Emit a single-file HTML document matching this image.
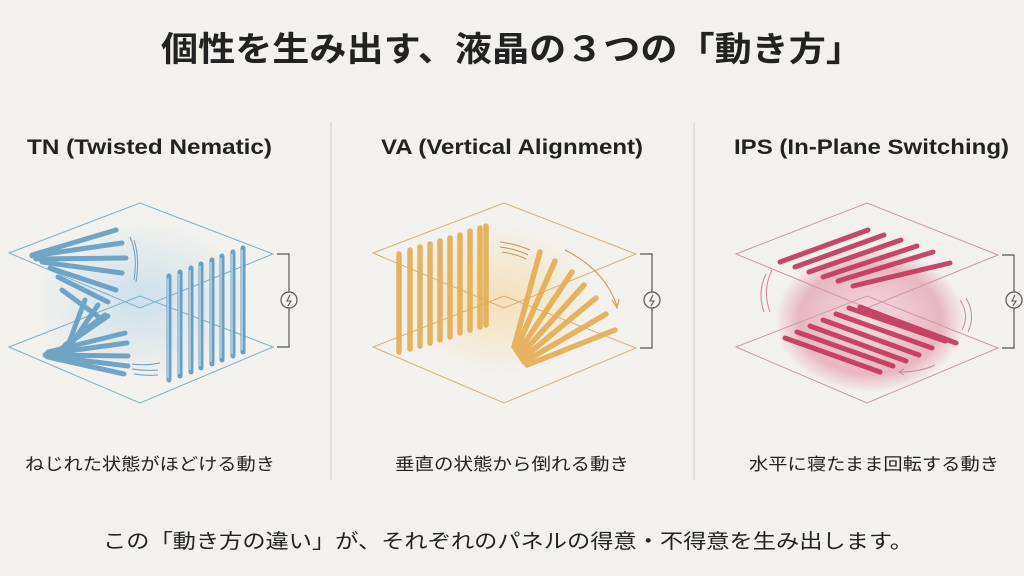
<!DOCTYPE html>
<html><head><meta charset="utf-8"><style>
html,body{margin:0;padding:0;background:#f2f1ed;}
svg{display:block}
text{font-family:"Liberation Sans","Noto Sans CJK JP",sans-serif;fill:#222}
</style></head><body>
<svg width="1024" height="576" viewBox="0 0 1024 576" xmlns="http://www.w3.org/2000/svg">
<defs>
<radialGradient id="gb" cx="0.5" cy="0.5" r="0.5"><stop offset="0" stop-color="#bcd9ea" stop-opacity="0.7"/><stop offset="1" stop-color="#bcd9ea" stop-opacity="0"/></radialGradient>
<radialGradient id="gy" cx="0.5" cy="0.5" r="0.5"><stop offset="0" stop-color="#f6d9a0" stop-opacity="0.7"/><stop offset="1" stop-color="#f6d9a0" stop-opacity="0"/></radialGradient>
<radialGradient id="gr" cx="0.5" cy="0.5" r="0.5"><stop offset="0" stop-color="#f4dbe0" stop-opacity="0.9"/><stop offset="0.75" stop-color="#e6a9b7" stop-opacity="0.8"/><stop offset="1" stop-color="#e6a9b7" stop-opacity="0"/></radialGradient>
</defs>
<rect width="1024" height="576" fill="#f2f1ed"/>
<text x="512" y="61" font-size="34" font-weight="bold" text-anchor="middle" textLength="702" lengthAdjust="spacingAndGlyphs">個性を生み出す、液晶の３つの「動き方」</text>
<line x1="331" y1="122" x2="331" y2="480" stroke="#d8d6d0" stroke-width="1.2"/>
<line x1="694" y1="122" x2="694" y2="480" stroke="#d8d6d0" stroke-width="1.2"/>
<text x="27" y="154" font-size="21" font-weight="bold" textLength="245" lengthAdjust="spacingAndGlyphs">TN (Twisted Nematic)</text>
<text x="381" y="154" font-size="21" font-weight="bold" textLength="262" lengthAdjust="spacingAndGlyphs">VA (Vertical Alignment)</text>
<text x="734" y="154" font-size="21" font-weight="bold" textLength="275" lengthAdjust="spacingAndGlyphs">IPS (In-Plane Switching)</text>

<!-- TN -->
<ellipse cx="140" cy="300" rx="110" ry="80" fill="url(#gb)"/>
<g fill="none" stroke="#7fb0c8" stroke-width="1">
<polygon points="9,253 140,203 273,254 140,308"/>
<polygon points="9,347 140,296 273,347 140,403"/>
</g>
<g stroke="#5b98c0" stroke-width="5" stroke-linecap="round" opacity="0.85">
<line x1="32" y1="255" x2="116" y2="230"/><line x1="32" y1="256" x2="122" y2="243"/>
<line x1="36" y1="259" x2="126" y2="258"/><line x1="42" y1="262" x2="122" y2="273"/>
<line x1="50" y1="268" x2="116" y2="290"/><line x1="58" y1="277" x2="108" y2="302"/>
<line x1="62" y1="290" x2="100" y2="318"/><line x1="85" y1="300" x2="70" y2="340"/>
<line x1="98" y1="305" x2="72" y2="343"/><line x1="105" y1="315" x2="65" y2="345"/>
<line x1="108" y1="316" x2="62" y2="348"/>
<line x1="48" y1="352" x2="125" y2="333"/><line x1="46" y1="354" x2="127" y2="343"/>
<line x1="45" y1="355" x2="128" y2="356"/><line x1="46" y1="356" x2="128" y2="366"/>
<line x1="48" y1="357" x2="124" y2="374"/>
</g>
<g stroke="#5b98c0" stroke-width="5" stroke-linecap="round" opacity="0.9">
<line x1="169" y1="276" x2="169" y2="380"/><line x1="180" y1="272" x2="180" y2="376"/>
<line x1="191" y1="268" x2="191" y2="372"/><line x1="201" y1="264" x2="201" y2="368"/>
<line x1="212" y1="260" x2="212" y2="364"/><line x1="222" y1="256" x2="222" y2="360"/>
<line x1="233" y1="252" x2="233" y2="356"/><line x1="243" y1="248" x2="243" y2="352"/>
</g>
<g stroke="#cfe4f0" stroke-width="1.2">
<line x1="168" y1="278" x2="168" y2="378"/><line x1="179" y1="274" x2="179" y2="374"/><line x1="190" y1="270" x2="190" y2="370"/><line x1="200" y1="266" x2="200" y2="366"/><line x1="211" y1="262" x2="211" y2="362"/><line x1="221" y1="258" x2="221" y2="358"/><line x1="232" y1="254" x2="232" y2="354"/><line x1="242" y1="250" x2="242" y2="350"/>
</g>
<g fill="none" stroke="#6a9cbc" stroke-width="1">
<path d="M130,237 Q138,255 134,280"/><path d="M134,240 Q140,258 136,282"/>
<path d="M132,364 Q145,366 160,363"/><path d="M132,369 Q145,371 158,370"/><path d="M134,374 Q146,376 158,375"/>
</g>
<g fill="none" stroke="#555" stroke-width="1.2">
<path d="M277,254 H289 V292 M289,308 V347 H277"/>
<circle cx="289" cy="300" r="8" fill="#f2f1ed"/>
<path d="M290,295 L287,301 H291 L288,306" stroke-width="1.1"/>
</g>

<!-- VA -->
<ellipse cx="500" cy="300" rx="95" ry="75" fill="url(#gy)"/>
<g fill="none" stroke="#d8b07a" stroke-width="1">
<polygon points="373,253 504,203 636,254 504,308"/>
<polygon points="373,347 504,296 636,348 504,403"/>
</g>
<g stroke="#e4ad52" stroke-width="5.5" stroke-linecap="round" opacity="0.9">
<line x1="399" y1="254" x2="399" y2="352"/><line x1="410" y1="250" x2="410" y2="349"/>
<line x1="420" y1="247" x2="420" y2="346"/><line x1="430" y1="244" x2="430" y2="343"/>
<line x1="440" y1="241" x2="440" y2="340"/><line x1="450" y1="238" x2="450" y2="337"/>
<line x1="460" y1="235" x2="460" y2="333"/><line x1="470" y1="231" x2="470" y2="330"/>
<line x1="480" y1="228" x2="480" y2="327"/><line x1="486" y1="226" x2="486" y2="325"/>
<line x1="514" y1="347" x2="540" y2="252"/><line x1="516" y1="350" x2="555" y2="261"/>
<line x1="518" y1="353" x2="572" y2="272"/><line x1="520" y1="356" x2="584" y2="285"/>
<line x1="522" y1="359" x2="596" y2="298"/><line x1="524" y1="362" x2="606" y2="314"/>
<line x1="527" y1="365" x2="615" y2="330"/>
</g>
<g fill="none" stroke="#c8955a" stroke-width="1">
<path d="M500,242 Q516,244 530,250"/><path d="M500,247 Q516,249 528,255"/><path d="M502,252 Q516,254 526,259"/>
<path d="M565,250 Q605,270 617,306"/><path d="M612,300 L617,308 L619,299"/>
</g>
<g fill="none" stroke="#555" stroke-width="1.2">
<path d="M640,254 H652 V292 M652,308 V348 H640"/>
<circle cx="652" cy="300" r="8" fill="#f2f1ed"/>
<path d="M653,295 L650,301 H654 L651,306" stroke-width="1.1"/>
</g>

<!-- IPS -->
<ellipse cx="870" cy="320" rx="95" ry="72" fill="url(#gr)"/>
<g fill="none" stroke="#c99aa3" stroke-width="1">
<polygon points="736,254 867,203 998,255 867,308"/>
<polygon points="736,347 867,296 998,348 867,403"/>
</g>
<g stroke="#c2365a" stroke-width="5" stroke-linecap="round" opacity="0.9">
<line x1="780" y1="262" x2="868" y2="230"/><line x1="795" y1="267" x2="884" y2="235"/>
<line x1="809" y1="272" x2="901" y2="240"/><line x1="823" y1="277" x2="917" y2="246"/>
<line x1="838" y1="281" x2="933" y2="252"/><line x1="853" y1="286" x2="950" y2="263"/>
<line x1="785" y1="338" x2="880" y2="372"/><line x1="797" y1="332" x2="893" y2="366"/>
<line x1="810" y1="326" x2="906" y2="361"/><line x1="823" y1="320" x2="919" y2="355"/>
<line x1="836" y1="314" x2="932" y2="348"/><line x1="849" y1="308" x2="945" y2="341"/>
<line x1="860" y1="307" x2="956" y2="343"/>
</g>
<g fill="none" stroke="#c88a97" stroke-width="1">
<path d="M772,270 Q762,290 770,312"/><path d="M766,274 Q757,292 764,312"/>
<path d="M960,300 Q970,315 962,330"/><path d="M966,298 Q976,315 968,332"/>
<path d="M935,365 Q920,372 900,372"/><path d="M904,369 L899,372 L904,375"/>
</g>
<g fill="none" stroke="#555" stroke-width="1.2">
<path d="M1002,255 H1014 V292 M1014,308 V348 H1002"/>
<circle cx="1014" cy="300" r="8" fill="#f2f1ed"/>
<path d="M1015,295 L1012,301 H1016 L1013,306" stroke-width="1.1"/>
</g>

<text x="150" y="470" font-size="17" text-anchor="middle" textLength="250" lengthAdjust="spacingAndGlyphs">ねじれた状態がほどける動き</text>
<text x="512" y="470" font-size="17" text-anchor="middle" textLength="234" lengthAdjust="spacingAndGlyphs">垂直の状態から倒れる動き</text>
<text x="874" y="470" font-size="17" text-anchor="middle" textLength="250" lengthAdjust="spacingAndGlyphs">水平に寝たまま回転する動き</text>
<text x="508" y="548" font-size="20" text-anchor="middle" textLength="810" lengthAdjust="spacingAndGlyphs">この「動き方の違い」が、それぞれのパネルの得意・不得意を生み出します。</text>
</svg>
</body></html>
